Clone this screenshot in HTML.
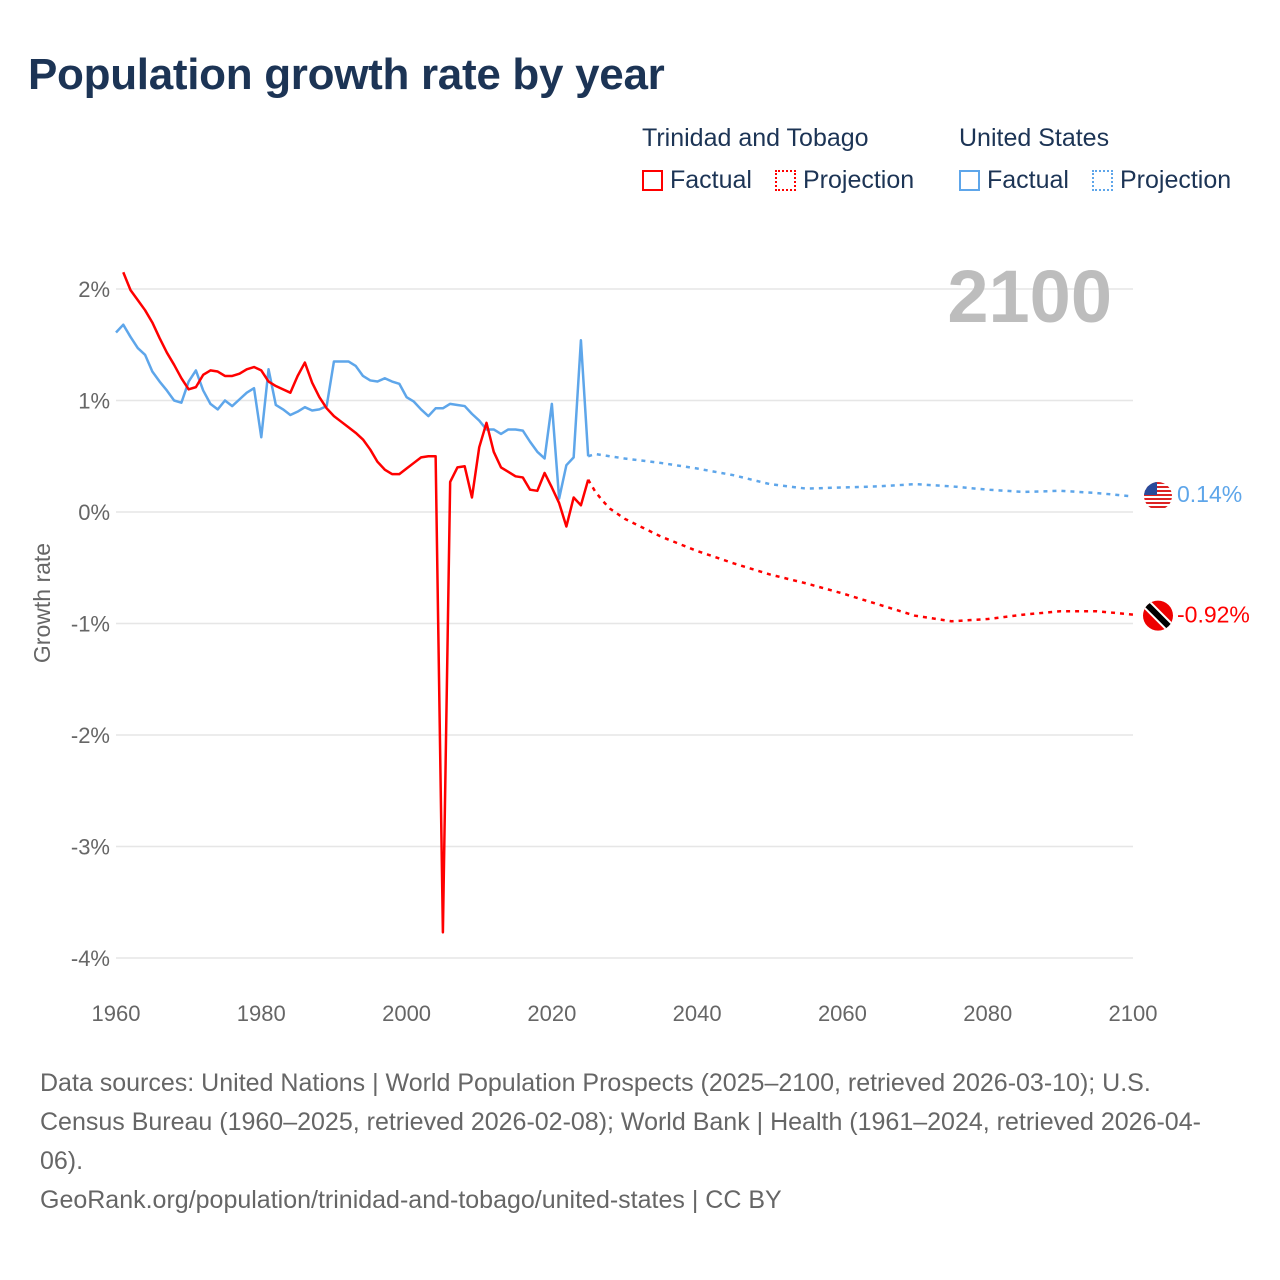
<!DOCTYPE html>
<html><head><meta charset="utf-8">
<style>
body{margin:0;background:#fff;font-family:"Liberation Sans",sans-serif;}
#wrap{position:relative;width:1280px;height:1280px;overflow:hidden;}
h1{position:absolute;left:28px;top:50px;margin:0;font-size:44px;font-weight:bold;color:#1c3455;letter-spacing:-0.3px;}
.lg{position:absolute;font-size:25px;color:#1c3455;}
.sw{display:inline-block;width:21px;height:21px;box-sizing:border-box;vertical-align:-3px;margin-right:7px;}
#foot{position:absolute;left:40px;top:1064px;width:1175px;font-size:25px;line-height:39px;color:#666;}
</style></head><body>
<div id="wrap">
<h1>Population growth rate by year</h1>
<div class="lg" style="left:642px;top:124px">Trinidad and Tobago</div>
<div class="lg" style="left:959px;top:124px">United States</div>
<div class="lg" style="left:642px;top:166px"><span class="sw" style="border:2px solid #f00"></span>Factual</div>
<div class="lg" style="left:775px;top:166px"><span class="sw" style="border:2px dotted #f00"></span>Projection</div>
<div class="lg" style="left:959px;top:166px"><span class="sw" style="border:2px solid #5ea6ea"></span>Factual</div>
<div class="lg" style="left:1092px;top:166px"><span class="sw" style="border:2px dotted #5ea6ea"></span>Projection</div>
<svg id="chart" width="1280" height="1280" style="position:absolute;left:0;top:0"></svg>
<div id="foot">Data sources: United Nations | World Population Prospects (2025–2100, retrieved 2026-03-10); U.S. Census Bureau (1960–2025, retrieved 2026-02-08); World Bank | Health (1961–2024, retrieved 2026-04-06).<br>GeoRank.org/population/trinidad-and-tobago/united-states | CC BY</div>
</div>
<script>
const ttYears=[1961,1962,1963,1964,1965,1966,1967,1968,1969,1970,1971,1972,1973,1974,1975,1976,1977,1978,1979,1980,1981,1982,1983,1984,1985,1986,1987,1988,1989,1990,1991,1992,1993,1994,1995,1996,1997,1998,1999,2000,2001,2002,2003,2004,2005,2006,2007,2008,2009,2010,2011,2012,2013,2014,2015,2016,2017,2018,2019,2020,2021,2022,2023,2024,2025];
const ttValues=[2.15,1.99,1.90,1.81,1.70,1.56,1.43,1.32,1.20,1.10,1.12,1.23,1.27,1.26,1.22,1.22,1.24,1.28,1.30,1.27,1.17,1.13,1.10,1.07,1.22,1.34,1.16,1.03,0.93,0.86,0.81,0.76,0.71,0.65,0.56,0.45,0.38,0.34,0.34,0.39,0.44,0.49,0.50,0.50,-3.77,0.27,0.40,0.41,0.13,0.58,0.80,0.54,0.40,0.36,0.32,0.31,0.20,0.19,0.35,0.22,0.08,-0.13,0.13,0.06,0.29];
const ttProjYears=[2025,2026,2027,2028,2030,2035,2040,2045,2050,2055,2060,2065,2070,2075,2080,2085,2090,2095,2100];
const ttProjValues=[0.29,0.18,0.10,0.03,-0.06,-0.22,-0.35,-0.46,-0.56,-0.64,-0.73,-0.83,-0.93,-0.98,-0.96,-0.92,-0.89,-0.89,-0.92];
const usYears=[1960,1961,1962,1963,1964,1965,1966,1967,1968,1969,1970,1971,1972,1973,1974,1975,1976,1977,1978,1979,1980,1981,1982,1983,1984,1985,1986,1987,1988,1989,1990,1991,1992,1993,1994,1995,1996,1997,1998,1999,2000,2001,2002,2003,2004,2005,2006,2007,2008,2009,2010,2011,2012,2013,2014,2015,2016,2017,2018,2019,2020,2021,2022,2023,2024,2025];
const usValues=[1.61,1.68,1.57,1.47,1.41,1.26,1.17,1.09,1.00,0.98,1.17,1.27,1.09,0.97,0.92,1.00,0.95,1.01,1.07,1.11,0.67,1.28,0.96,0.92,0.87,0.90,0.94,0.91,0.92,0.95,1.35,1.35,1.35,1.31,1.22,1.18,1.17,1.20,1.17,1.15,1.03,0.99,0.92,0.86,0.93,0.93,0.97,0.96,0.95,0.88,0.82,0.74,0.74,0.70,0.74,0.74,0.73,0.63,0.54,0.48,0.97,0.12,0.42,0.49,1.54,0.50];
const usProjYears=[2025,2026,2030,2035,2040,2045,2050,2055,2060,2065,2070,2075,2080,2085,2090,2095,2100];
const usProjValues=[0.50,0.52,0.48,0.44,0.39,0.33,0.25,0.21,0.22,0.23,0.25,0.23,0.20,0.18,0.19,0.17,0.14];
const yTicks=[2,1,0,-1,-2,-3,-4];
const yTickLabels=["2%","1%","0%","-1%","-2%","-3%","-4%"];
const xTicks=[1960,1980,2000,2020,2040,2060,2080,2100];

const NS="http://www.w3.org/2000/svg";
const svg=document.getElementById('chart');
const X=y=>116+(y-1960)*(1017/140);
const Y=v=>512-v*111.5;
function mk(t,a,parent){const e=document.createElementNS(NS,t);for(const k in a)e.setAttribute(k,a[k]);(parent||svg).appendChild(e);return e;}
yTicks.forEach((t,i)=>{
  const g=mk('line',{x1:116,x2:1133,y1:Y(t),y2:Y(t),stroke:'#e6e6e6','stroke-width':1.5});
  
  
  const tx=mk('text',{x:110,y:Y(t)+8,'text-anchor':'end','font-size':22,fill:'#666'});
  tx.textContent=yTickLabels[i];
  
  
});
xTicks.forEach(t=>{
  const tx=mk('text',{x:X(t),y:1021,'text-anchor':'middle','font-size':22,fill:'#666'});
  tx.textContent=t;
  
  
});
const yt=mk('text',{x:0,y:0,transform:'translate(50,603) rotate(-90)','text-anchor':'middle','font-size':23,fill:'#666'});
yt.textContent='Growth rate';


const yr=mk('text',{x:1112,y:322,'text-anchor':'end','font-size':74,'font-weight':'bold',fill:'#bdbdbd'});
yr.textContent='2100';


function line(xs,vs,col,dash,name){
  const p=mk('polyline',{points:xs.map((x,i)=>X(x)+','+Y(vs[i])).join(' '),fill:'none',stroke:col,'stroke-width':2.5,'stroke-linejoin':'round'});
  if(dash)p.setAttribute('stroke-dasharray','4 5');
  
  
}
line(usYears,usValues,'#5ea6ea',false,'us-factual-line');
line(usProjYears,usProjValues,'#5ea6ea',true,'us-projection-line');
line(ttYears,ttValues,'#ff0000',false,'tt-factual-line');
line(ttProjYears,ttProjValues,'#ff0000',true,'tt-projection-line');
const usEnd=usProjValues[usProjValues.length-1], ttEnd=ttProjValues[ttProjValues.length-1];
const fx=1158, fy=496;
const defs=mk('defs',{});
const cp=mk('clipPath',{id:'uc'},defs);
mk('circle',{cx:fx,cy:fy,r:14},cp);
const g=mk('g',{'clip-path':'url(#uc)'});


mk('rect',{x:fx-15,y:fy-15,width:30,height:30,fill:'#fff'},g);
for(let i=0;i<8;i++){mk('rect',{x:fx-15,y:fy-14+i*4,width:30,height:2,fill:'#d22'},g);}
mk('rect',{x:fx-15,y:fy-15,width:14,height:14,fill:'#2a4a9a'},g);
const ut=mk('text',{x:1177,y:502,'font-size':23,fill:'#5ea6ea'});
ut.textContent=usEnd.toFixed(2)+'%';


const ty=Y(ttEnd)+1;
const cp2=mk('clipPath',{id:'tc'},defs);
mk('circle',{cx:fx,cy:ty,r:15},cp2);
const g2=mk('g',{'clip-path':'url(#tc)'});


mk('rect',{x:fx-16,y:ty-16,width:32,height:32,fill:'#e00'},g2);
mk('line',{x1:fx-14,y1:ty-14,x2:fx+14,y2:ty+14,stroke:'#fff','stroke-width':10},g2);
mk('line',{x1:fx-14,y1:ty-14,x2:fx+14,y2:ty+14,stroke:'#000','stroke-width':6},g2);
const tt=mk('text',{x:1177,y:Y(ttEnd)+8,'font-size':23,fill:'#ff0000'});
tt.textContent=ttEnd.toFixed(2)+'%';


</script>
</body></html>
